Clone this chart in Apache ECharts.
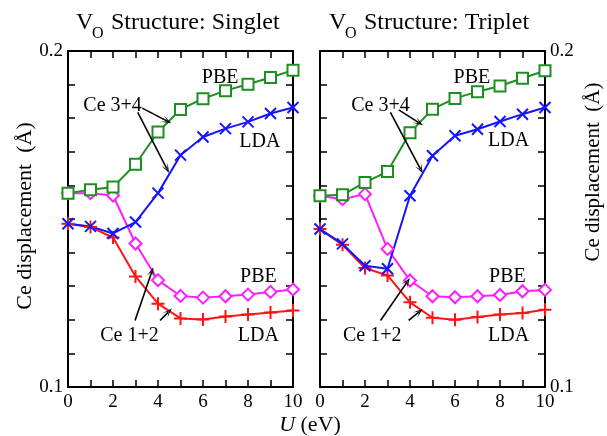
<!DOCTYPE html>
<html><head><meta charset="utf-8">
<script src="https://cdn.jsdelivr.net/npm/echarts@6/dist/echarts.min.js"></script>
<style>html,body{margin:0;padding:0;background:#fff}#c{width:607px;height:436px}</style>
</head><body><div id="c"></div>
<script>
const U = [0,1,2,3,4,5,6,7,8,9,10];
const xTicks = ['0','2','4','6','8','10'];
const yTicks = ['0.1','0.2'];
// Singlet
const sPBE34 = [0.1577,0.1587,0.1595,0.1663,0.1759,0.1826,0.1858,0.1882,0.1901,0.1921,0.1943];
const sLDA34 = [0.1486,0.1478,0.1457,0.1491,0.1577,0.1690,0.1744,0.1769,0.1789,0.1814,0.1832];
const sPBE12 = [0.1577,0.1577,0.1570,0.1427,0.1318,0.1271,0.1266,0.1270,0.1275,0.1283,0.1290];
const sLDA12 = [0.1486,0.1476,0.1445,0.1329,0.1248,0.1204,0.1201,0.1210,0.1216,0.1222,0.1228];
// Triplet
const tPBE34 = [0.1569,0.1572,0.1609,0.1641,0.1757,0.1827,0.1859,0.1879,0.1896,0.1919,0.1941];
const tLDA34 = [0.1470,0.1426,0.1361,0.1352,0.1569,0.1688,0.1748,0.1767,0.1790,0.1812,0.1832];
const tPBE12 = [0.1569,0.1559,0.1574,0.1411,0.1317,0.1270,0.1267,0.1270,0.1274,0.1285,0.1289];
const tLDA12 = [0.1470,0.1423,0.1354,0.1332,0.1252,0.1206,0.1200,0.1208,0.1216,0.1220,0.1230];
// annotation texts and arrows (data coordinates)
const labelsS = [['PBE',6.76,0.1921],['LDA',8.53,0.1729],['PBE',8.46,0.1329],['LDA',8.46,0.1154],['Ce 3+4',1.98,0.1838],['Ce 1+2',2.73,0.1154]];
const arrowsS = [[3.3,0.1830,4.39,0.1792],[3.1,0.1817,4.39,0.1650],[2.98,0.1198,3.72,0.1342],[4.09,0.1198,4.46,0.1223]];
const labelsT = [['PBE',6.75,0.1919],['LDA',8.38,0.1733],['PBE',8.33,0.1329],['LDA',8.38,0.1154],['Ce 3+4',2.69,0.1838],['Ce 1+2',2.32,0.1154]];
const arrowsT = [[3.5,0.1825,4.39,0.1787],[3.13,0.1817,4.46,0.1649],[2.69,0.1198,3.87,0.1312],[3.94,0.1198,4.39,0.1223]];

const FONT = '"Liberation Serif", "Times New Roman", Times, serif';
const pair = (ys) => U.map((x,i)=>[x, ys[i]]);
const C = {green:'#1c8f20', blue:'#1414ff', mag:'#ff1cff', red:'#ff1414'};
const XMARK = 'path://M0,0L10,10M10,0L0,10';
const PLUS = 'path://M5,0L5,10M0,5L10,5';
const ARROW = 'path://M0,10L5,0L10,10L5,4Z';

function xAx(grid, pos, labels){
  return {type:'value', gridIndex:grid, position:pos, min:0, max:10, interval:1,
    axisLine:{show:true, onZero:false, lineStyle:{color:'#000', width:2}},
    axisTick:{show:true, inside:true, length:7, lineStyle:{color:'#000', width:1.5}},
    splitLine:{show:false},
    axisLabel:{show:labels, margin:6, fontFamily:FONT, fontSize:19, color:'#000',
      formatter:v=>{const s=String(Math.round(v)); return xTicks.includes(s)?s:'';}}};
}
function yAx(grid, pos, labels){
  return {type:'value', gridIndex:grid, position:pos, min:0.1, max:0.2, interval:0.01,
    axisLine:{show:true, onZero:false, lineStyle:{color:'#000', width:2}},
    axisTick:{show:true, inside:true, length:7, lineStyle:{color:'#000', width:1.5}},
    splitLine:{show:false},
    axisLabel:{show:labels, margin:5, fontFamily:FONT, fontSize:19, color:'#000', showMinLabel:true, showMaxLabel:true,
      formatter:v=>{const s=(Math.round(v*100)/100).toFixed(1); return (Math.abs(v*10-Math.round(v*10))<1e-6 && yTicks.includes(s))?s:'';}}};
}
function ser(data, color, symbol, size, xi, yi, extra){
  return Object.assign({type:'line', xAxisIndex:xi, yAxisIndex:yi, data:data, symbol:symbol, symbolSize:size,
    showAllSymbol:true, lineStyle:{color:color, width:2}, z:3,
    itemStyle:{color:color, borderColor:color, borderWidth:2}}, extra||{});
}
function annot(labels, arrows){
  return {
    markLine:{silent:true, symbol:['none', ARROW], symbolSize:[7,10], animation:false,
      lineStyle:{color:'#000', width:1.6, type:'solid'}, label:{show:false},
      data: arrows.map(a=>[{coord:[a[0],a[1]]},{coord:[a[2],a[3]]}])},
    markPoint:{silent:true, symbol:'rect', symbolSize:1, itemStyle:{color:'rgba(0,0,0,0)'},
      label:{show:true, position:'inside', fontFamily:FONT, fontSize:20, color:'#000', formatter:p=>p.name},
      data: labels.map(l=>({name:l[0], coord:[l[1], l[2]]}))}
  };
}
const chart = echarts.init(document.getElementById('c'));
chart.setOption({
  animation:false,
  backgroundColor:'#fff',
  grid:[{left:68, top:51, width:225, height:336}, {left:320, top:51, width:225, height:336}],
  xAxis:[xAx(0,'bottom',true), xAx(0,'top',false), xAx(1,'bottom',true), xAx(1,'top',false)],
  yAxis:[yAx(0,'left',true), yAx(0,'right',false), yAx(1,'left',false), yAx(1,'right',true)],
  series:[
    ser(pair(sLDA12), C.red, PLUS, 13, 0, 0),
    ser(pair(sPBE12), C.mag, 'emptyDiamond', 12, 0, 0),
    ser(pair(sLDA34), C.blue, XMARK, 11, 0, 0),
    ser(pair(sPBE34), C.green, 'emptyRect', 11, 0, 0, annot(labelsS, arrowsS)),
    ser(pair(tLDA12), C.red, PLUS, 13, 2, 3),
    ser(pair(tPBE12), C.mag, 'emptyDiamond', 12, 2, 3),
    ser(pair(tLDA34), C.blue, XMARK, 11, 2, 3),
    ser(pair(tPBE34), C.green, 'emptyRect', 11, 2, 3, annot(labelsT, arrowsT))
  ],
  graphic:[
    {type:'text', x:76, y:23, style:{text:'V', fontFamily:FONT, fontSize:24, fill:'#000', verticalAlign:'middle'}},
    {type:'text', x:92, y:34, style:{text:'O', fontFamily:FONT, fontSize:16, fill:'#000', verticalAlign:'middle'}},
    {type:'text', x:111, y:23, style:{text:'Structure: Singlet', fontFamily:FONT, fontSize:24, fill:'#000', verticalAlign:'middle'}},
    {type:'text', x:329, y:23, style:{text:'V', fontFamily:FONT, fontSize:24, fill:'#000', verticalAlign:'middle'}},
    {type:'text', x:345, y:34, style:{text:'O', fontFamily:FONT, fontSize:16, fill:'#000', verticalAlign:'middle'}},
    {type:'text', x:364, y:23, style:{text:'Structure: Triplet', fontFamily:FONT, fontSize:24, fill:'#000', verticalAlign:'middle'}},
    {type:'text', x:25, y:216, rotation:Math.PI/2, style:{text:'Ce displacement  (Å)', fontFamily:FONT, fontSize:22, fill:'#000', align:'center', verticalAlign:'middle'}},
    {type:'text', x:593, y:172, rotation:Math.PI/2, style:{text:'Ce displacement  (Å)', fontFamily:FONT, fontSize:21, fill:'#000', align:'center', verticalAlign:'middle'}},
    {type:'text', x:310, y:425, style:{text:'{i|U} (eV)', fontFamily:FONT, fontSize:22, fill:'#000', align:'center', verticalAlign:'middle',
      rich:{i:{fontStyle:'italic', fontFamily:FONT, fontSize:22}}}}
  ]
});
</script></body></html>
